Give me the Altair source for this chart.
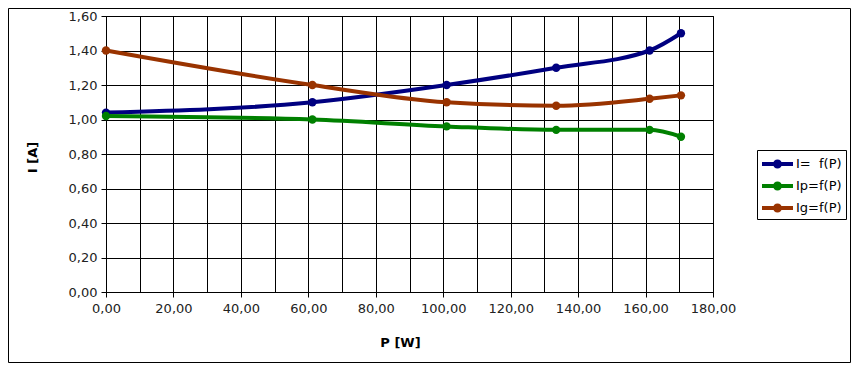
import altair as alt
import pandas as pd

# Data
P_values = [0.0, 61.2, 101.0, 133.5, 161.2, 170.5]
I_values = [1.04, 1.10, 1.20, 1.30, 1.40, 1.50]
Ip_values = [1.02, 1.00, 0.96, 0.94, 0.94, 0.90]
Ig_values = [1.40, 1.20, 1.10, 1.08, 1.12, 1.14]

series_names = ["I=\u00a0 f(P)", "Ip=f(P)", "Ig=f(P)"]
series_colors = ["#000080", "#008000", "#993300"]

x_grid = list(range(0, 181, 10))
y_ticks = [0.0, 0.2, 0.4, 0.6, 0.8, 1.0, 1.2, 1.4, 1.6]

rows = []
for name, vals in zip(series_names, [I_values, Ip_values, Ig_values]):
    for p, v in zip(P_values, vals):
        rows.append({"P": p, "I": v, "series": name})
df = pd.DataFrame(rows)

FONT = "DejaVu Sans"
num_fmt = "replace(format(datum.value, '.2f'), '.', ',')"

x_enc = alt.X(
    "P:Q",
    scale=alt.Scale(domain=[0, 180], nice=False, zero=False),
    axis=alt.Axis(
        values=x_grid,
        labelExpr="datum.value % 20 === 0 ? " + num_fmt + " : ''",
        tickOpacity={"condition": {"test": "datum.value % 20 === 0", "value": 1}, "value": 0},
        labelOverlap=False,
        labelFlush=False,
        title="P [W]",
        titleX=294,
        titleY=50,
        titleBaseline="middle",
        titleAlign="center",
        labelPadding=5,
        tickSize=5,
    ),
)
y_enc = alt.Y(
    "I:Q",
    scale=alt.Scale(domain=[0, 1.6], nice=False),
    axis=alt.Axis(
        values=y_ticks,
        labelExpr=num_fmt,
        labelOverlap=False,
        labelFlush=False,
        title="I [A]",
        titleX=-74,
        titleY=141,
        titleBaseline="middle",
        titleAlign="center",
        labelPadding=4,
        tickSize=5,
    ),
)

legend_path = (
    "M-0.9,-0.2 L2.2,-0.2 L2.2,0.2 L-0.9,0.2 Z "
    "M0.2,0 A0.45,0.45 0 1,1 1.1,0 A0.45,0.45 0 1,1 0.2,0 Z"
)

color_scale = alt.Scale(domain=series_names, range=series_colors)

legend_color = alt.Color(
    "series:N",
    scale=color_scale,
    sort=series_names,
    legend=alt.Legend(
        title=None,
        orient="none",
        legendX=651,
        legendY=134,
        symbolType=legend_path,
        symbolSize=400,
        symbolStrokeWidth=0,
        symbolOpacity=1,
        padding=4,
        rowPadding=5,
        labelOffset=15,
        strokeColor="black",
        fillColor="white",
        labelFont=FONT,
        labelFontSize=13,
        labelColor="black",
    ),
)

base = alt.Chart(df)

lines = base.mark_line(interpolate="monotone", strokeWidth=4).encode(
    x=x_enc, y=y_enc,
    color=alt.Color("series:N", scale=color_scale, sort=series_names),
)
points = base.mark_point(filled=True, size=70, opacity=1).encode(
    x=x_enc, y=y_enc, color=legend_color
)

frame = alt.Chart(pd.DataFrame({"f": [0]})).mark_rect(
    fillOpacity=0, stroke="black", strokeWidth=1
).encode(
    x=alt.value(-97.5), x2=alt.value(744.5), y=alt.value(-7.5), y2=alt.value(346.5)
)

chart = alt.layer(frame, lines, points).properties(
    width=607,
    height=276,
    background="white",
    autosize=alt.AutoSizeParams(type="none"),
    padding={"left": 98, "top": 8, "right": 140, "bottom": 71},
).configure_view(
    stroke="black", strokeWidth=1
).configure_axis(
    gridColor="black",
    gridOpacity=1,
    gridWidth=1,
    domainColor="black",
    tickColor="black",
    labelFont=FONT,
    labelFontSize=13,
    labelColor="#222222",
    titleFont=FONT,
    titleFontSize=13,
    titleFontWeight="bold",
    titleColor="black",
)

chart.save("out.html", embed_options={"renderer": "svg", "actions": False})
